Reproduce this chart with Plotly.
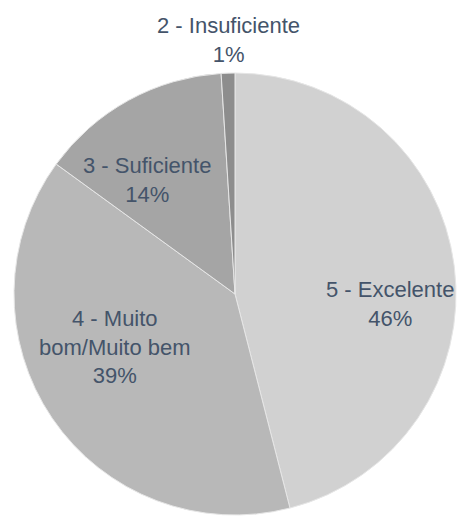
import plotly.graph_objects as go

categories = ["5 - Excelente", "4 - Muito bom/Muito bem", "3 - Suficiente", "2 - Insuficiente"]
values = [46, 39, 14, 1]
label_lines = [["5 - Excelente", "46%"],
               ["4 - Muito", "bom/Muito bem", "39%"],
               ["3 - Suficiente", "14%"],
               ["2 - Insuficiente", "1%"]]
slice_colors = ["#d1d1d1", "#b8b8b8", "#a5a5a5", "#8d8d8d"]

W, H = 457, 517
cx, cy, R = 235, 294, 221

fig = go.Figure(go.Pie(
    labels=categories,
    values=values,
    sort=False,
    direction="clockwise",
    rotation=0,
    marker=dict(colors=slice_colors, line=dict(color="#e6e6e6", width=1)),
    textinfo="none",
    hoverinfo="label+percent",
    showlegend=False,
    domain=dict(x=[(cx - R) / W, (cx + R) / W], y=[(H - cy - R) / H, (H - cy + R) / H]),
))

# label anchor points (pixel centres)
label_pos = [(390, 304), (115, 347), (147, 180), (228, 40)]
for lines, (px, py) in zip(label_lines, label_pos):
    fig.add_annotation(
        x=px / W, y=1 - py / H, xref="paper", yref="paper",
        text="<br>".join(lines), showarrow=False,
        xanchor="center", yanchor="middle", align="center",
        font=dict(family="Liberation Sans, Arial, sans-serif", size=22, color="#44546a"),
    )

fig.update_layout(
    width=W, height=H,
    margin=dict(l=0, r=0, t=0, b=0),
    paper_bgcolor="white",
    plot_bgcolor="white",
)

fig.write_html(
    "out.html",
    config={"displayModeBar": False},
    post_script="document.body.style.margin='0';document.body.style.overflow='hidden';",
)
